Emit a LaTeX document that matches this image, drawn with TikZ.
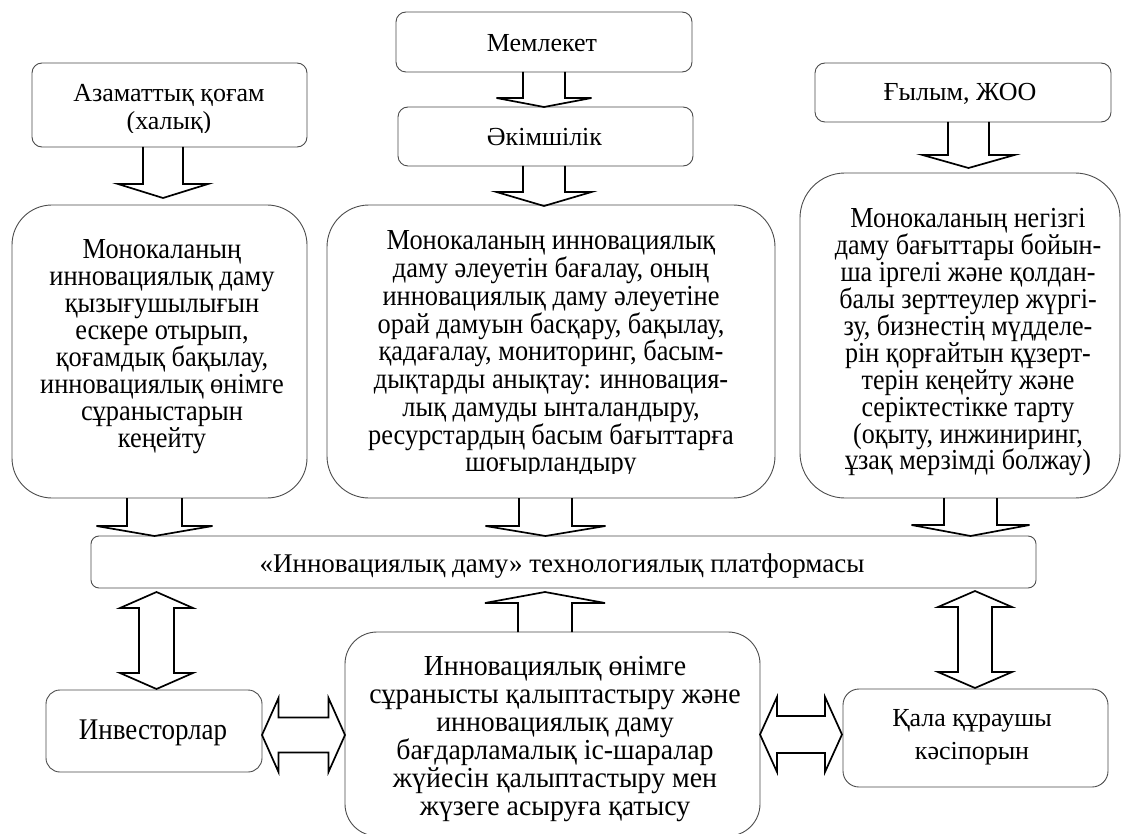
\documentclass[tikz,border=0pt]{standalone}
\usepackage{fontspec}
\setmainfont{Liberation Serif}
\newfontfamily\tallA[FakeStretch=0.91]{Liberation Serif}
\newfontfamily\tallB[FakeStretch=0.90]{Liberation Serif}
\newfontfamily\tallC[FakeStretch=0.96]{Liberation Serif}
\usetikzlibrary{calc}

\newcommand\tightlines{\lineskiplimit=-100pt\lineskip=0pt}

\newcommand\BlockArr[5]{% #1 start, #2 tip, #3 shaft half width, #4 head half width, #5 head length
  \path ($(#2)!#5!(#1)$) coordinate (hbase);
  \draw[barrow] ($(#1)!#3!90:(#2)$) -- ($(hbase)!#3!90:(#2)$) -- ($(hbase)!#4!90:(#2)$) -- (#2)
    -- ($(hbase)!#4!-90:(#2)$) -- ($(hbase)!#3!-90:(#2)$) -- ($(#1)!#3!-90:(#2)$);}
\newcommand\DoubleArr[5]{% #1 tip, #2 tip, #3 shaft half width, #4 head half width, #5 head length
  \path ($(#1)!#5!(#2)$) coordinate (hbA) ($(#2)!#5!(#1)$) coordinate (hbB);
  \draw[barrow] (#1) -- ($(hbA)!#4!90:(#2)$) -- ($(hbA)!#3!90:(#2)$) -- ($(hbB)!#3!90:(#2)$)
    -- ($(hbB)!#4!90:(#2)$) -- (#2) -- ($(hbB)!#4!-90:(#2)$) -- ($(hbB)!#3!-90:(#2)$)
    -- ($(hbA)!#3!-90:(#2)$) -- ($(hbA)!#4!-90:(#2)$) -- cycle;}

\tikzset{
  box/.style={draw=black!70, line width=0.9pt, rounded corners=#1, inner sep=0pt, outer sep=0pt},
  box/.default=10pt,
  txt/.style={font=\fontsize{26}{27.5}\selectfont, align=center, inner sep=0pt, execute at begin node=\tightlines},
  barrow/.style={draw=black, line width=1.7pt, line join=miter},
}

\begin{document}
\tightlines
\begin{tikzpicture}[x=1pt,y=-1pt]
\clip (0,0) rectangle (1124,834);
\fill[white] (0,0) rectangle (1124,834);

% boxes
\node[box=10pt, minimum width=275pt, minimum height=84pt] (az) at (169.5,105) {};
\node[box=10pt, minimum width=296pt, minimum height=60pt] (mk) at (544,42) {};
\node[box=10pt, minimum width=295pt, minimum height=59pt] (ak) at (545.5,136.5) {};
\node[box=10pt, minimum width=296pt, minimum height=59pt] (gy) at (963,92.5) {};
\node[box=40pt, minimum width=295pt, minimum height=293pt] (m1) at (159.5,351.5) {};
\node[box=42pt, minimum width=448pt, minimum height=293pt] (m2) at (551,351.5) {};
\node[box=45pt, minimum width=320pt, minimum height=325pt] (m3) at (960,335.5) {};
\node[box=8pt, minimum width=945pt, minimum height=52pt] (pl) at (563.5,562) {};
\node[box=14pt, minimum width=216pt, minimum height=82pt] (inv) at (154,731) {};
\node[box=32pt, minimum width=415pt, minimum height=204pt] (cb) at (552.5,734) {};
\node[box=16pt, minimum width=265pt, minimum height=98pt] (qa) at (975.5,738) {};

% texts
\begin{scope}
\clip (32,63) rectangle (307,133);
\node[txt, font=\fontsize{26}{28}\selectfont] (azT) at ($(az.center)+(-0.5,4.6)$) {Азаматтық қоғам\\(халық)};
\end{scope}
\node[txt] (mkT) at ($(mk.center)+(-2,1.6)$) {Мемлекет};
\node[txt] (akT) at ($(ak.center)+(-1,0.1)$) {Әкімшілік};
\node[txt] (gyT) at ($(gy.center)+(-3,1.1)$) {Ғылым, ЖОО};
\node[txt, font=\tallA\fontsize{29}{27.1}\selectfont] (m1T) at ($(m1.center)+(2.5,-5)$) {Монокаланың\\инновациялық даму\\қызығушылығын\\ескере отырып,\\қоғамдық бақылау,\\инновациялық өнімге\\сұраныстарын\\кеңейту};
\begin{scope}
\clip (327,205) rectangle (775,473.5);
\node[txt, font=\tallA\fontsize{29}{27.75}\selectfont] (m2T) at ($(m2.center)+(0,3.1)$) {Монокаланың инновациялық\\даму әлеуетін бағалау, оның\\инновациялық даму әлеуетіне\\орай дамуын басқару, бақылау,\\қадағалау, мониторинг, басым-\\дықтарды анықтау: инновация-\\лық дамуды ынталандыру,\\ресурстардың басым бағыттарға\\шоғырландыру};
\end{scope}
\node[txt, font=\tallB\fontsize{29}{26.9}\selectfont] (m3T) at ($(m3.center)+(8,6.9)$) {Монокаланың негізгі\\даму бағыттары бойын-\\ша іргелі және қолдан-\\балы зерттеулер жүргі-\\зу, бизнестің мүдделе-\\рін қорғайтын құзерт-\\терін кеңейту және\\серіктестікке тарту\\(оқыту, инжиниринг,\\ұзақ мерзімді болжау)};
\node[txt, font=\fontsize{27}{28}\selectfont] (plT) at ($(pl.center)+(-1.5,4)$) {«Инновациялық даму» технологиялық платформасы};
\node[txt, font=\tallB\fontsize{30}{28}\selectfont] (invT) at ($(inv.center)+(-1,2.3)$) {Инвесторлар};
\node[txt, font=\tallC\fontsize{29}{28}\selectfont] (cbT) at ($(cb.center)+(2.5,4.6)$) {Инновациялық өнімге\\сұранысты қалыптастыру және\\инновациялық даму\\бағдарламалық іс-шаралар\\жүйесін қалыптастыру мен\\жүзеге асыруға қатысу};
\node[txt, font=\fontsize{26}{33}\selectfont] (qaT) at ($(qa.center)+(-3.5,-1)$) {Қала құраушы\\кәсіпорын};

% arrow reference columns / rows
\coordinate (xA) at (163,0);
\coordinate (xB) at (544,0);
\coordinate (xC) at (968.5,0);
\coordinate (xD) at (154.5,0);
\coordinate (xE) at (545.5,0);
\coordinate (xF) at (970.5,0);
\coordinate (xG) at (545,0);
\coordinate (xH) at (156.5,0);
\coordinate (xI) at (975,0);
\coordinate (yJ) at (0,735);
\coordinate (yK) at (0,734.5);

\coordinate (a1s) at (az.south -| xA);
\coordinate (a1t) at ($(m1.north -| xA)+(0,-7)$);
\coordinate (a2s) at (mk.south -| xB);
\coordinate (a2t) at (ak.north -| xB);
\coordinate (a3s) at (ak.south -| xB);
\coordinate (a3t) at ($(m2.north -| xB)+(0,1)$);
\coordinate (a4s) at (gy.south -| xC);
\coordinate (a4t) at ($(m3.north -| xC)+(0,-5)$);
\coordinate (a5s) at (m1.south -| xD);
\coordinate (a5t) at (pl.north -| xD);
\coordinate (a6s) at (m2.south -| xE);
\coordinate (a6t) at (pl.north -| xE);
\coordinate (a7s) at (m3.south -| xF);
\coordinate (a7t) at (pl.north -| xF);
\coordinate (a8s) at (cb.north -| xG);
\coordinate (a8t) at ($(pl.south -| xG)+(0,4)$);
\coordinate (d1a) at ($(pl.south -| xH)+(0,4)$);
\coordinate (d1b) at ($(inv.north -| xH)+(0,-1)$);
\coordinate (d2a) at ($(pl.south -| xI)+(0,3)$);
\coordinate (d2b) at ($(qa.north -| xI)+(0,-1)$);
\coordinate (d3a) at (inv.east |- yJ);
\coordinate (d3b) at (cb.west |- yJ);
\coordinate (d4a) at (cb.east |- yK);
\coordinate (d4b) at ($(qa.west |- yK)+(-1,0)$);

% block arrows
\BlockArr{a1s}{a1t}{20pt}{45pt}{14pt}
\BlockArr{a2s}{a2t}{21pt}{47.5pt}{9pt}
\BlockArr{a3s}{a3t}{21pt}{47.5pt}{14pt}
\BlockArr{a4s}{a4t}{20.5pt}{46pt}{13pt}
\BlockArr{a5s}{a5t}{27.5pt}{58pt}{10pt}
\BlockArr{a6s}{a6t}{26.5pt}{60pt}{10pt}
\BlockArr{a7s}{a7t}{26.5pt}{59pt}{11pt}
\BlockArr{a8s}{a8t}{27pt}{60pt}{11pt}
\DoubleArr{d1a}{d1b}{17.5pt}{36.5pt}{16pt}
\DoubleArr{d2a}{d2b}{17pt}{37pt}{16pt}
\DoubleArr{d3a}{d3b}{17.5pt}{37pt}{16.5pt}
\DoubleArr{d4a}{d4b}{18.5pt}{37.5pt}{17pt}
\end{tikzpicture}
\end{document}
